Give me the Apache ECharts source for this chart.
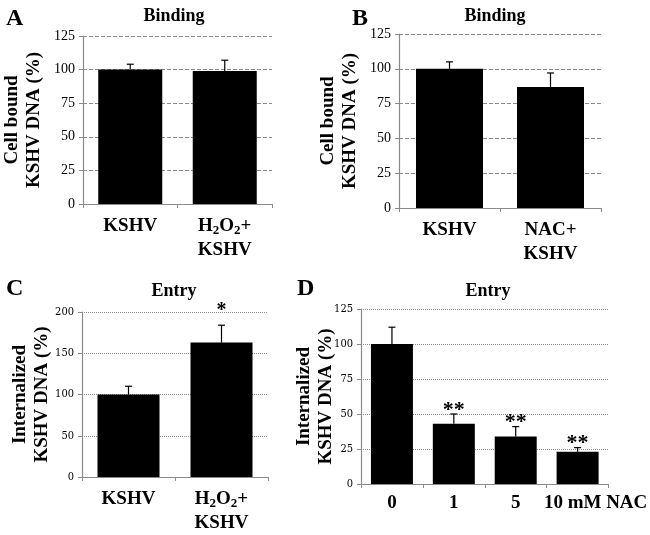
<!DOCTYPE html>
<html>
<head>
<meta charset="utf-8">
<script src="https://cdn.jsdelivr.net/npm/echarts@6/dist/echarts.min.js"></script>
<style>
  html, body { margin: 0; padding: 0; background: #fff; }
  #chart { width: 650px; height: 535px; }
</style>
</head>
<body>
<div id="chart"></div>
<script>
// panel data
const catsA = ['KSHV', 'H{s|2}O{s|2}+\nKSHV'];
const valsA = [100, 99];
const errsA = [4, 8];

const catsB = ['KSHV', 'NAC+\nKSHV'];
const valsB = [100, 87];
const errsB = [5, 10];

const catsC = ['KSHV', 'H{s|2}O{s|2}+\nKSHV'];
const valsC = [100, 163];
const errsC = [10, 21];
const sigC = ['', '*'];

const catsD = ['0', '1', '5', '10 mM NAC'];
const valsD = [100, 43, 34, 23];
const errsD = [12, 7, 7, 3];
const sigD = ['', '**', '**', '**'];

const serif = 'Liberation Serif';
const narrow = 'DejaVu Serif Condensed';
const axisGray = '#8a8a8a';

const chart = echarts.init(document.getElementById('chart'));

function errSeries(idx, vals, errs, sig, sigSize) {
    return {
        type: 'custom',
        xAxisIndex: idx,
        yAxisIndex: idx,
        z: 5,
        data: vals.map((v, i) => [i, v, errs[i]]),
        renderItem(params, api) {
            const i = api.value(0);
            const v = api.value(1);
            const e = api.value(2);
            const base = api.coord([i, v]);
            const top = api.coord([i, v + e]);
            const children = [
                { type: 'line', shape: { x1: base[0], y1: base[1], x2: top[0], y2: top[1] }, style: { stroke: '#000', lineWidth: 1.2 } },
                { type: 'line', shape: { x1: top[0] - 3.5, y1: top[1], x2: top[0] + 3.5, y2: top[1] }, style: { stroke: '#000', lineWidth: 1.2 } }
            ];
            const s = sig ? sig[i] : '';
            if (s) {
                children.push({
                    type: 'text',
                    style: {
                        text: s,
                        x: top[0], y: top[1] + (s.length > 1 ? 7 : -4),
                        align: 'center', verticalAlign: 'bottom',
                        font: 'bold ' + sigSize + 'px ' + serif, fill: '#000'
                    }
                });
            }
            return { type: 'group', children: children };
        }
    };
}

const grids = [
    { left: 81, top: 36, width: 191, height: 168 },
    { left: 399, top: 34, width: 202, height: 174 },
    { left: 82, top: 312, width: 186, height: 173 },
    { left: 361, top: 309, width: 250, height: 175 }
];

const richLabel = {
    s: { fontSize: 13, fontWeight: 'bold', fontFamily: serif, padding: [10, 0, 0, 0] }
};

function xAxis(idx, cats, extra) {
    return Object.assign({
        type: 'category',
        gridIndex: idx,
        data: cats,
        axisLine: { lineStyle: { color: axisGray, width: 1.2 } },
        axisTick: { show: true, length: 4, lineStyle: { color: axisGray } },
        axisLabel: {
            interval: 0,
            color: '#000', fontFamily: serif, fontWeight: 'bold', fontSize: 19,
            lineHeight: 24, margin: 10, rich: richLabel
        }
    }, extra || {});
}

function yAxis(idx, max, interval, name, nameGap, labelFont, labelSize, dashType) {
    return {
        type: 'value',
        gridIndex: idx,
        min: 0, max: max, interval: interval,
        name: name,
        nameLocation: 'middle',
        nameRotate: 90,
        nameGap: nameGap,
        nameMoveOverlap: false,
        nameTextStyle: { color: '#000', fontFamily: serif, fontWeight: 'bold', fontSize: 19, lineHeight: 22 },
        axisLine: { show: true, lineStyle: { color: axisGray, width: 1.2 } },
        axisTick: { show: true, length: 4, lineStyle: { color: axisGray } },
        axisLabel: { color: '#000', fontFamily: labelFont, fontSize: labelSize, margin: 8 },
        splitLine: { show: true, lineStyle: { color: '#8c8c8c', type: dashType, width: 1 } }
    };
}

function bars(idx, vals, width) {
    return {
        type: 'bar', xAxisIndex: idx, yAxisIndex: idx, data: vals,
        barWidth: width, itemStyle: { color: '#000' }, z: 3
    };
}

const letterStyle = { fontFamily: serif, fontWeight: 'bold', fontSize: 24, color: '#000' };
const headStyle = { fontFamily: serif, fontWeight: 'bold', fontSize: 18, color: '#000' };

chart.setOption({
    backgroundColor: '#fff',
    animation: false,
    title: [
        { text: 'A', left: 1, top: 2, textStyle: letterStyle },
        { text: 'B', left: 347, top: 2, textStyle: letterStyle },
        { text: 'C', left: 1, top: 272, textStyle: letterStyle },
        { text: 'D', left: 292, top: 272, textStyle: letterStyle },
        { text: 'Binding', left: 169, top: 2, textAlign: 'center', textStyle: headStyle },
        { text: 'Binding', left: 490, top: 2, textAlign: 'center', textStyle: headStyle },
        { text: 'Entry', left: 169, top: 277, textAlign: 'center', textStyle: headStyle },
        { text: 'Entry', left: 483, top: 277, textAlign: 'center', textStyle: headStyle }
    ],
    grid: grids,
    xAxis: [
        xAxis(0, catsA),
        xAxis(1, catsB),
        xAxis(2, catsC),
        xAxis(3, catsD, {
            axisLabel: {
                interval: 0,
                color: '#000', fontFamily: serif, fontWeight: 'bold', fontSize: 19, margin: 10,
                formatter: v => v === '10 mM NAC' ? '{n|' + v + '}' : v,
                rich: { n: { fontFamily: serif, fontWeight: 'bold', fontSize: 19, padding: [0, 0, 0, 36] } }
            }
        })
    ],
    yAxis: [
        yAxis(0, 125, 25, 'Cell bound\nKSHV DNA (%)', 38, serif, 14, 'dashed'),
        yAxis(1, 125, 25, 'Cell bound\nKSHV DNA (%)', 38, serif, 14, 'dashed'),
        yAxis(2, 200, 50, 'Internalized\nKSHV DNA (%)', 29, narrow, 11, 'dotted'),
        yAxis(3, 125, 25, 'Internalized\nKSHV DNA (%)', 24, narrow, 11, 'dotted')
    ],
    series: [
        bars(0, valsA, 64),
        bars(1, valsB, 67),
        bars(2, valsC, 62),
        bars(3, valsD, 42),
        errSeries(0, valsA, errsA),
        errSeries(1, valsB, errsB),
        errSeries(2, valsC, errsC, sigC, 20),
        errSeries(3, valsD, errsD, sigD, 22)
    ]
});
</script>
</body>
</html>
